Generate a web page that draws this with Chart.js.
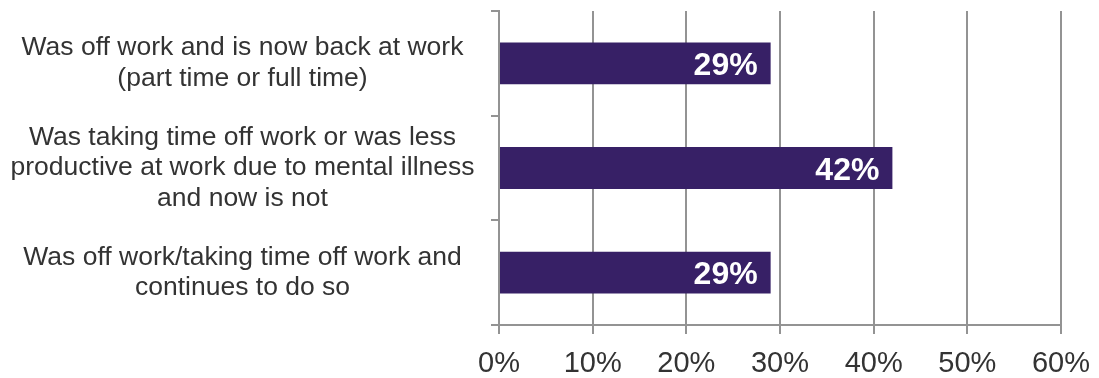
<!DOCTYPE html>
<html>
<head>
<meta charset="utf-8">
<script src="https://cdn.jsdelivr.net/npm/chart.js@4/dist/chart.umd.min.js"></script>
<style>
  html, body { margin: 0; padding: 0; background: #fff; }
  #wrap { width: 1099px; height: 378px; }
</style>
</head>
<body>
<div id="wrap"><canvas id="chart" width="1099" height="378"></canvas></div>
<script>
const categories = [
  ["Was off work and is now back at work", "(part time or full time)"],
  ["Was taking time off work or was less", "productive at work due to mental illness", "and now is not"],
  ["Was off work/taking time off work and", "continues to do so"]
];
const percentValues = [29, 42, 29];
const tickLabels = ["0%", "10%", "20%", "30%", "40%", "50%", "60%"];

const gridGray = "#939393";
const fontFamily = "'Liberation Sans', Arial, sans-serif";

// writes the value inside the end of each bar
const barLabels = {
  id: "barLabels",
  afterDatasetsDraw(chart) {
    const ctx = chart.ctx;
    const meta = chart.getDatasetMeta(0);
    ctx.save();
    ctx.fillStyle = "#ffffff";
    ctx.font = "bold 32px " + fontFamily;
    ctx.textAlign = "right";
    ctx.textBaseline = "middle";
    meta.data.forEach((bar, i) => {
      ctx.fillText(percentValues[i] + "%", bar.x - 13, bar.y + 3);
    });
    ctx.restore();
  }
};

new Chart(document.getElementById("chart"), {
  type: "bar",
  data: {
    labels: categories,
    datasets: [{
      data: percentValues,
      backgroundColor: "#372066",
      barPercentage: 0.4,
      categoryPercentage: 1
    }]
  },
  options: {
    indexAxis: "y",
    responsive: false,
    animation: false,
    layout: { padding: { top: 11, right: 38, left: 0, bottom: 0 } },
    plugins: { legend: { display: false }, tooltip: { enabled: false } },
    scales: {
      x: {
        min: 0,
        max: 60,
        ticks: {
          stepSize: 10,
          color: "#333333",
          padding: 13,
          font: { family: fontFamily, size: 29 },
          callback: (v, i) => tickLabels[i]
        },
        grid: { color: gridGray, lineWidth: 2, tickLength: 9 },
        border: { color: gridGray, width: 2 },
        afterFit: (scale) => {
          scale.height = 53;
          scale.paddingLeft = 0;
          scale.paddingRight = 0;
        }
      },
      y: {
        ticks: {
          color: "#333333",
          crossAlign: "center",
          padding: 16.5,
          font: { family: fontFamily, size: 26.5, lineHeight: 1.16 }
        },
        grid: { color: gridGray, lineWidth: 2, drawOnChartArea: false, tickLength: 8 },
        border: { color: gridGray, width: 2 },
        afterFit: (scale) => {
          scale.width = 499;
          scale.paddingTop = 0;
          scale.paddingBottom = 0;
        }
      }
    }
  },
  plugins: [barLabels]
});
</script>
</body>
</html>
